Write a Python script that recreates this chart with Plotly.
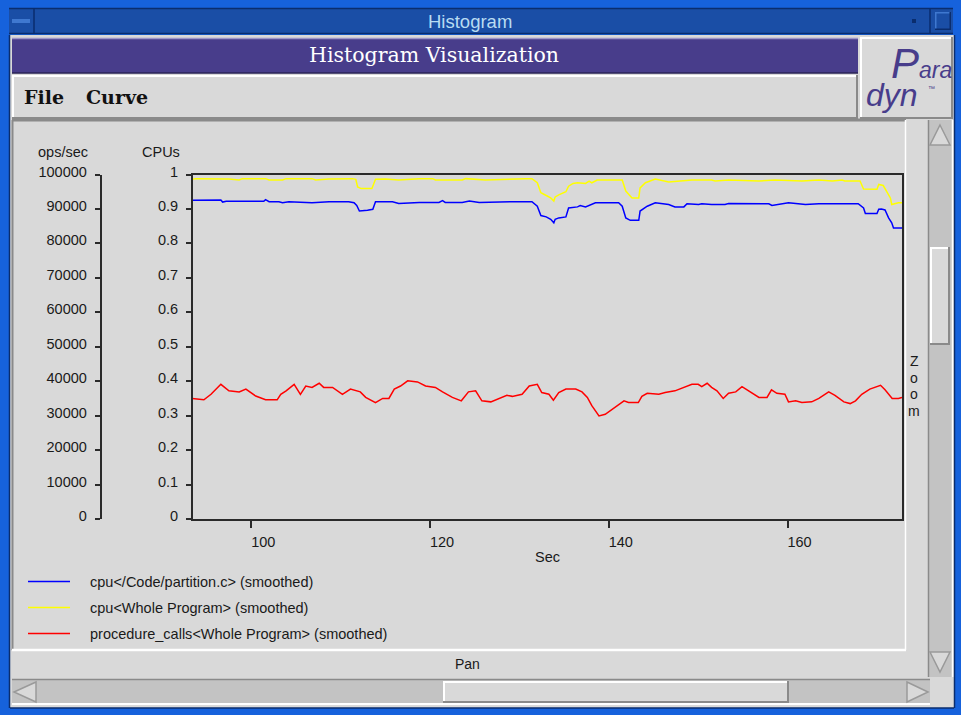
import plotly.graph_objects as go

# ---------------- data ----------------
sec_blue = [93.45, 95.7, 96.6, 96.8, 97.2, 101.4, 101.6, 102.0, 103.1, 103.5, 104.2, 106.8, 108.7,
            110.9, 111.5, 111.8, 112.1, 113.0, 113.6, 113.9, 115.8, 116.5, 118.8, 121.0, 121.4, 121.7,
            123.6, 124.4, 125.5, 129.2, 131.4, 132.0, 132.4, 133.0, 133.5, 133.85, 134.0, 134.4, 135.2,
            135.5, 136.5, 136.8, 137.4, 138.5, 141.1, 141.5, 141.9, 142.4, 143.35, 143.5, 144.3, 145.2,
            146.7, 147.4, 148.4, 148.75, 150.05, 150.4, 151.5, 153.0, 153.4, 157.9, 158.25, 160.1, 162.0,
            163.5, 167.9, 168.5, 168.7, 170.0, 170.2, 170.5, 170.9, 171.3, 171.65, 171.85, 172.8]
cpu_blue = [0.925, 0.927, 0.926, 0.920, 0.922, 0.922, 0.927, 0.921, 0.921, 0.918, 0.921, 0.918, 0.921,
            0.921, 0.918, 0.910, 0.894, 0.896, 0.899, 0.921, 0.921, 0.916, 0.919, 0.919, 0.924, 0.919,
            0.919, 0.923, 0.919, 0.921, 0.921, 0.908, 0.881, 0.877, 0.870, 0.860, 0.870, 0.874, 0.877,
            0.903, 0.906, 0.910, 0.906, 0.918, 0.918, 0.908, 0.874, 0.867, 0.867, 0.894, 0.908, 0.918,
            0.913, 0.906, 0.906, 0.915, 0.913, 0.915, 0.913, 0.913, 0.916, 0.915, 0.910, 0.918, 0.913,
            0.915, 0.915, 0.903, 0.887, 0.887, 0.899, 0.900, 0.897, 0.874, 0.860, 0.845, 0.845]

sec_yellow = [93.45, 93.8, 97.5, 98.65, 99.0, 101.6, 102.0, 103.5, 103.9, 106.8, 107.2, 108.7, 111.3,
              111.7, 111.9, 112.3, 113.5, 113.9, 115.0, 116.5, 118.8, 120.3, 120.6, 123.6, 124.0, 126.2,
              130.7, 131.4, 132.0, 132.4, 133.0, 133.5, 133.85, 134.0, 134.4, 135.2, 135.5, 136.0, 136.5,
              137.0, 137.4, 137.8, 138.1, 138.7, 141.5, 141.9, 142.6, 143.35, 143.5, 144.1, 145.2, 146.7,
              148.6, 149.3, 151.5, 151.9, 153.4, 156.8, 158.6, 161.6, 163.5, 165.0, 166.1, 166.4, 168.1,
              168.5, 170.0, 170.2, 170.7, 171.1, 171.5, 171.65, 172.4, 172.8]
cpu_yellow = [0.986, 0.988, 0.987, 0.984, 0.988, 0.988, 0.984, 0.984, 0.988, 0.988, 0.984, 0.987, 0.988,
              0.986, 0.964, 0.959, 0.959, 0.986, 0.987, 0.984, 0.988, 0.988, 0.984, 0.984, 0.988, 0.984,
              0.988, 0.988, 0.976, 0.947, 0.939, 0.932, 0.923, 0.935, 0.941, 0.950, 0.966, 0.974, 0.976,
              0.976, 0.974, 0.981, 0.976, 0.984, 0.984, 0.952, 0.932, 0.932, 0.961, 0.976, 0.987, 0.978,
              0.981, 0.984, 0.984, 0.981, 0.984, 0.981, 0.984, 0.981, 0.984, 0.981, 0.984, 0.981, 0.981,
              0.958, 0.957, 0.971, 0.968, 0.952, 0.932, 0.913, 0.918, 0.918]

sec_red = [93.4, 94.7, 95.5, 96.6, 97.5, 98.65, 99.4, 100.5, 101.6, 102.9, 103.3, 103.9, 104.8, 105.5,
           106.1, 106.8, 107.6, 108.1, 109.1, 110.2, 111.1, 112.2, 112.8, 113.9, 114.7, 115.4, 116.0,
           116.7, 117.5, 118.6, 119.5, 120.6, 121.4, 122.5, 123.5, 124.3, 125.1, 125.8, 126.8, 127.7,
           128.6, 129.2, 130.3, 131.1, 132.0, 132.5, 133.3, 133.8, 134.4, 135.2, 136.3, 137.0, 137.6,
           138.1, 138.9, 139.6, 140.7, 141.7, 142.2, 143.3, 143.7, 144.3, 145.6, 146.3, 147.4, 148.6,
           149.3, 150.0, 150.4, 151.0, 151.5, 152.1, 152.8, 153.4, 154.2, 154.9, 155.6, 156.8, 157.7,
           158.2, 158.8, 159.7, 160.1, 160.9, 161.6, 162.7, 163.5, 164.6, 165.3, 166.3, 167.0, 167.6,
           168.3, 169.2, 170.4, 170.9, 171.7, 172.4, 172.8]
ops_red = [35000, 34600, 36200, 39100, 37200, 36900, 37700, 35700, 34600, 34600, 36200, 37200, 39100, 36200,
           38600, 38200, 39400, 38200, 38200, 36200, 37700, 36900, 35300, 33800, 35000, 35000, 37700,
           38600, 40100, 39800, 38600, 38200, 36900, 35300, 34300, 36900, 37200, 34300, 34000, 35000,
           35900, 35600, 36200, 38600, 39100, 36700, 36200, 34500, 36700, 37700, 37700, 36900, 35300,
           32900, 29900, 30400, 32400, 34300, 33800, 33800, 35600, 36500, 36200, 36700, 37200, 38400,
           39100, 39100, 38400, 39400, 38200, 37200, 35000, 36500, 36900, 38400, 37200, 35300, 35300,
           37500, 36500, 36200, 34000, 34300, 33800, 34000, 35000, 36900, 35900, 34000, 33500, 34300,
           36200, 37700, 38800, 37500, 35000, 35000, 35300]

cpu_ticks = [0, 0.1, 0.2, 0.3, 0.4, 0.5, 0.6, 0.7, 0.8, 0.9, 1]
cpu_tick_labels = ["0", "0.1", "0.2", "0.3", "0.4", "0.5", "0.6", "0.7", "0.8", "0.9", "1"]
ops_ticks = [0, 10000, 20000, 30000, 40000, 50000, 60000, 70000, 80000, 90000, 100000]
ops_tick_labels = ["0", "10000", "20000", "30000", "40000", "50000", "60000", "70000", "80000", "90000", "100000"]
sec_ticks = [100, 120, 140, 160]
sec_range = [93.45, 172.8]

legend_labels = ["cpu</Code/partition.c> (smoothed)",
                 "cpu<Whole Program> (smoothed)",
                 "procedure_calls<Whole Program> (smoothed)"]
series_colors = ["#0000ff", "#ffff00", "#ff0000"]

# ---------------- geometry helpers ----------------
W, H = 961, 715
GRAY = "#d9d9d9"
TROUGH = "#c3c3c3"
DARK = "#8a8a8a"
WHITE = "#ffffff"
PURPLE = "#483d8b"
FONT = "Liberation Sans, Arial, sans-serif"
NARROW = "Liberation Sans Narrow, Liberation Sans, sans-serif"
SERIF = "DejaVu Serif, serif"


def px(x):
    return x / W


def py(y):
    return 1 - y / H


shapes = []
annotations = []


def rect(x0, y0, x1, y1, fill):
    shapes.append(dict(type="rect", xref="paper", yref="paper", layer="below",
                       x0=px(x0), x1=px(x1), y0=py(y1), y1=py(y0),
                       fillcolor=fill, line=dict(width=0)))


def seg(x0, y0, x1, y1, color, w=1.0, layer="below"):
    shapes.append(dict(type="line", xref="paper", yref="paper", layer=layer,
                       x0=px(x0), x1=px(x1), y0=py(y0), y1=py(y1),
                       line=dict(color=color, width=w)))


def bevel(x0, y0, x1, y1, light, dark, w=2):
    seg(x0, y0 + w / 2, x1, y0 + w / 2, light, w)
    seg(x0 + w / 2, y0, x0 + w / 2, y1, light, w)
    seg(x0, y1 - w / 2, x1, y1 - w / 2, dark, w)
    seg(x1 - w / 2, y0, x1 - w / 2, y1, dark, w)


def tri(points, fill, line):
    d = "M " + " L ".join(f"{px(x)},{py(y)}" for x, y in points) + " Z"
    shapes.append(dict(type="path", xref="paper", yref="paper", layer="below", path=d,
                       fillcolor=fill, line=dict(color=line, width=1.5)))


def text(x, y, s, size, color="#1a1a1a", family=FONT, xanchor="center", yanchor="middle", align="center"):
    annotations.append(dict(xref="paper", yref="paper", x=px(x), y=py(y), text=s,
                            showarrow=False, xanchor=xanchor, yanchor=yanchor, align=align,
                            font=dict(size=size, color=color, family=family)))


# ---------------- window chrome ----------------
# title bar
rect(9, 8, 953, 34, "#1a4ea6")
seg(9, 8.5, 953, 8.5, "#0a2d6e", 1.5)
seg(9, 33.5, 953, 33.5, "#0a2d6e", 1.5)
seg(34, 8, 34, 34, "#0a2d6e", 1.5)
seg(930, 8, 930, 34, "#0a2d6e", 1.5)
rect(12, 19, 30, 23, "#3f78d0")
rect(912, 19, 916, 23, "#0a2d6e")
bevel(935, 12, 951, 30, "#3f78d0", "#0a2d6e", 1.5)
text(470, 21, "Histogram", 18.5, "#b8dcf2", NARROW)

# main gray area
rect(10, 35, 954, 708, GRAY)
seg(9.5, 35, 9.5, 708, "#0a2d6e", 1.5)
seg(954.5, 35, 954.5, 708, "#0a2d6e", 1.5)
seg(10, 708, 954, 708, "#0a2d6e", 1.5)

# purple header
rect(12, 38, 858, 73, PURPLE)
seg(12, 38.5, 858, 38.5, "#9b94c8", 1.5)
seg(12, 73, 858, 73, "#2a2356", 1.5)
text(433.5, 55, "Histogram Visualization", 20.5, WHITE, SERIF)

# menu bar
bevel(12, 75, 858, 119, WHITE, DARK, 2)
text(22, 97, "<b>File</b>", 19, "#111111", SERIF, xanchor="left")
text(84, 97, "<b>Curve</b>", 19, "#111111", SERIF, xanchor="left")

# logo
bevel(860, 37, 953, 119, WHITE, DARK, 2)
text(889, 64, "<i><span style='font-size:42px'>P</span>ara</i>", 23, PURPLE, NARROW, xanchor="left")
text(892, 95, "<i>dyn</i>", 32, PURPLE, NARROW)
text(931, 89, "\u2122", 7, PURPLE, NARROW)

# plot panel (sunken)
seg(12, 120, 906, 120, DARK, 3)
seg(12.5, 120, 12.5, 650, DARK, 2)
seg(12, 650, 906, 650, WHITE, 2.5)
seg(905.5, 120, 905.5, 650, WHITE, 1.5)

# zoom label area
for i, ch in enumerate("Zoom"):
    text(914, 361 + i * 16.7, ch, 14, "#1a1a1a")

# vertical scrollbar
rect(928, 120, 953, 677, TROUGH)
seg(928.5, 120, 928.5, 677, DARK, 1.5)
seg(952.5, 120, 952.5, 677, WHITE, 1.5)
tri([(940, 125), (950, 145), (930, 145)], GRAY, "#9a9a9a")
tri([(930, 652), (950, 652), (940, 672)], GRAY, "#9a9a9a")
rect(930, 247, 950, 345, GRAY)
bevel(930, 247, 950, 345, WHITE, DARK, 2)

# pan label
text(467, 664, "Pan", 14, "#1a1a1a")

# horizontal scrollbar
rect(12, 679, 930, 705, TROUGH)
seg(12, 679.5, 930, 679.5, DARK, 1.5)
seg(12, 704, 930, 704, WHITE, 2)
tri([(14, 692), (36, 682), (36, 702)], GRAY, "#9a9a9a")
tri([(928, 692), (907, 682), (907, 702)], GRAY, "#9a9a9a")
rect(443, 681, 789, 703, GRAY)
bevel(443, 681, 789, 703, WHITE, DARK, 2)

# axis titles
text(63, 152, "ops/sec", 14.5, "#1a1a1a")
text(161, 152, "CPUs", 14.5, "#1a1a1a")
text(547.4, 557, "Sec", 14.5, "#1a1a1a")

# legend (key)
for i, (lab, col) in enumerate(zip(legend_labels, series_colors)):
    yy = 581.5 + i * 26
    seg(28, yy, 70, yy, col, 1.5)
    text(88, yy, lab, 14.5, "#1a1a1a", xanchor="left")

# ---------------- plot ----------------
x_dom = [px(192.7), px(902)]
y_dom = [py(519), py(174.5)]

fig = go.Figure()
fig.add_trace(go.Scatter(x=sec_blue, y=cpu_blue, mode="lines", name=legend_labels[0],
                         line=dict(color=series_colors[0], width=1.5), yaxis="y"))
fig.add_trace(go.Scatter(x=sec_yellow, y=cpu_yellow, mode="lines", name=legend_labels[1],
                         line=dict(color=series_colors[1], width=1.5), yaxis="y"))
fig.add_trace(go.Scatter(x=sec_red, y=ops_red, mode="lines", name=legend_labels[2],
                         line=dict(color=series_colors[2], width=1.5), yaxis="y2"))

axis_line = "#2a2a2a"
tick_font = dict(size=14.5, color="#1a1a1a", family=FONT)

fig.update_layout(
    template="none",
    width=W, height=H,
    autosize=False,
    margin=dict(l=0, r=0, t=0, b=0, pad=0, autoexpand=False),
    paper_bgcolor="#1662dc",
    plot_bgcolor="rgba(0,0,0,0)",
    showlegend=False,
    hovermode=False,
    shapes=shapes,
    annotations=annotations,
    xaxis=dict(domain=x_dom, range=sec_range, tickvals=sec_ticks, ticks="outside", ticklen=7,
               tickwidth=1.5, tickcolor=axis_line, showline=True, linecolor=axis_line, linewidth=1.5,
               mirror=True, showgrid=False, zeroline=False, tickfont=tick_font, automargin=False,
               ticklabelshift=12, ticklabelstandoff=2, anchor="y"),
    yaxis=dict(domain=y_dom, range=[0, 1], tickvals=cpu_ticks, ticktext=cpu_tick_labels,
               ticks="outside", ticklen=5, tickwidth=1.5, tickcolor=axis_line, showline=True,
               linecolor=axis_line, linewidth=1.5, mirror=True, showgrid=False, zeroline=False,
               tickfont=tick_font, ticklabelstandoff=5, ticklabelshift=-3, automargin=False, anchor="x"),
    yaxis2=dict(overlaying="y", anchor="free", position=px(100.5), side="left", range=[0, 100000],
                tickvals=ops_ticks, ticktext=ops_tick_labels, ticks="outside", ticklen=5, tickwidth=1.5,
                tickcolor=axis_line, showline=True, linecolor=axis_line, linewidth=1.5,
                showgrid=False, zeroline=False, tickfont=tick_font, ticklabelstandoff=5,
                ticklabelshift=-3, automargin=False),
)

fig.write_html("out.html", config={"displayModeBar": False},
               post_script="document.body.style.margin='0';document.body.style.overflow='hidden';")
